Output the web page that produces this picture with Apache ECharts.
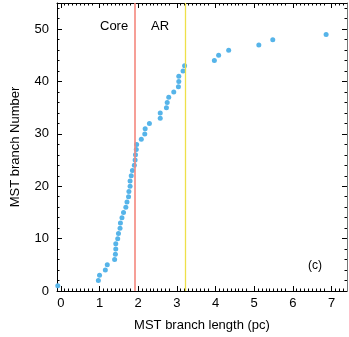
<!DOCTYPE html>
<html>
<head>
<meta charset="utf-8">
<script src="https://cdn.jsdelivr.net/npm/echarts@6/dist/echarts.min.js"></script>
<style>
  html, body { margin: 0; padding: 0; background: #fff; }
  #chart { width: 349px; height: 337px; }
</style>
</head>
<body>
<div id="chart"></div>
<script>
  // MST branch lengths (pc), sorted, and their branch number
  const branchLength = [-0.08, 0.97, 1.0, 1.15, 1.2, 1.39, 1.41, 1.42, 1.42, 1.47,
    1.49, 1.53, 1.54, 1.58, 1.62, 1.68, 1.71, 1.75, 1.76, 1.79,
    1.79, 1.82, 1.85, 1.9, 1.92, 1.93, 1.95, 1.96, 2.08, 2.17,
    2.18, 2.29, 2.57, 2.57, 2.73, 2.75, 2.79, 2.92, 3.04, 3.05,
    3.05, 3.16, 3.2, 3.97, 4.08, 4.34, 5.12, 5.48, 6.86]
  const branchNumber = [1, 2, 3, 4, 5, 6, 7, 8, 9, 10,
    11, 12, 13, 14, 15, 16, 17, 18, 19, 20,
    21, 22, 23, 24, 25, 26, 27, 28, 29, 30,
    31, 32, 33, 34, 35, 36, 37, 38, 39, 40,
    41, 42, 43, 44, 45, 46, 47, 48, 49]
  const xTicks = [0, 1, 2, 3, 4, 5, 6, 7]
  const coreCut = 1.91
  const arCut = 3.22

  const font = 'Liberation Sans, Arial, Helvetica, sans-serif'
  const points = branchLength.map((v, i) => [v, branchNumber[i]])

  const xBase = {
    type: 'value',
    min: -0.1,
    max: 7.4,
    interval: 1,
    axisLine: { show: true, onZero: false, lineStyle: { color: '#000', width: 1 } },
    axisTick: { show: true, inside: true, length: 5, customValues: xTicks, lineStyle: { color: '#000' } },
    minorTick: { show: true, splitNumber: 10, length: 2.5, lineStyle: { color: '#000' } },
    splitLine: { show: false },
    minorSplitLine: { show: false },
  }
  const yBase = {
    type: 'value',
    min: 0,
    max: 55,
    interval: 10,
    axisLine: { show: true, onZero: false, lineStyle: { color: '#000', width: 1 } },
    axisTick: { show: true, inside: true, length: 5, lineStyle: { color: '#000' } },
    minorTick: { show: true, splitNumber: 5, length: 2.5, lineStyle: { color: '#000' } },
    splitLine: { show: false },
    minorSplitLine: { show: false },
  }

  const chart = echarts.init(document.getElementById('chart'), null, { renderer: 'canvas' })
  chart.setOption({
    animation: false,
    grid: { left: 57, right: 2, top: 3, bottom: 45, containLabel: false },
    xAxis: [
      Object.assign({}, xBase, {
        position: 'bottom',
        name: 'MST branch length (pc)',
        nameLocation: 'middle',
        nameGap: 28,
        nameTextStyle: { color: '#000', fontSize: 13, fontFamily: font },
        axisLabel: {
          color: '#000', fontSize: 13, fontFamily: font, margin: 6,
          customValues: xTicks,
        },
      }),
      Object.assign({}, xBase, { position: 'top', axisLabel: { show: false } }),
    ],
    yAxis: [
      Object.assign({}, yBase, {
        position: 'left',
        name: 'MST branch Number',
        nameLocation: 'middle',
        nameGap: 35,
        nameTextStyle: { color: '#000', fontSize: 13, fontFamily: font },
        axisLabel: {
          color: '#000', fontSize: 13, fontFamily: font, margin: 8,
          showMinLabel: true, showMaxLabel: false,
        },
      }),
      Object.assign({}, yBase, {
        position: 'right',
        axisLine: { show: true, onZero: false, lineStyle: { color: '#777', width: 1 } },
        axisLabel: { show: false },
      }),
    ],
    graphic: [
      { type: 'text', left: 100, top: 20, style: { text: 'Core', fill: '#000', font: '13px ' + font } },
      { type: 'text', left: 151, top: 20, style: { text: 'AR', fill: '#000', font: '13px ' + font } },
      { type: 'text', left: 308, top: 260, style: { text: '(c)', fill: '#000', font: '12px ' + font } },
    ],
    series: [
      {
        type: 'scatter',
        xAxisIndex: 0,
        yAxisIndex: 0,
        data: points,
        symbolSize: 5,
        itemStyle: { color: '#56b4e9', opacity: 1 },
        z: 3,
        markLine: {
          silent: true,
          symbol: ['none', 'none'],
          label: { show: false },
          data: [
            { xAxis: coreCut, lineStyle: { color: '#f4877d', width: 1.6, type: 'solid', opacity: 1 } },
            { xAxis: arCut, lineStyle: { color: '#eee04a', width: 1.3, type: 'solid', opacity: 1 } },
          ],
        },
      },
    ],
  })
</script>
</body>
</html>
